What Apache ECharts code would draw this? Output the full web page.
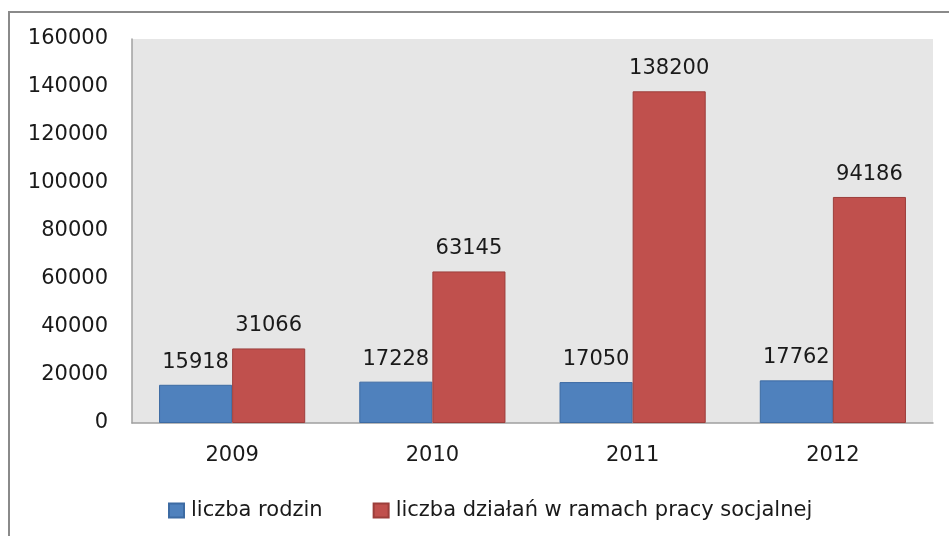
<!DOCTYPE html>
<html><head><meta charset="utf-8">
<script src="https://cdn.jsdelivr.net/npm/echarts@6/dist/echarts.min.js"></script>
<style>html,body{margin:0;padding:0;background:#fff}#c{width:949px;height:536px}</style>
</head><body><div id="c"></div>
<script>
const categories = ['2009', '2010', '2011', '2012'];
const seriesNames = ['liczba rodzin', 'liczba działań w ramach pracy socjalnej'];
const rodziny = [15918, 17228, 17050, 17762];
const dzialania = [31066, 63145, 138200, 94186];
const yMin = 0, yMax = 160000, yStep = 20000;

const FONT = 'DejaVu Sans';
const chart = echarts.init(document.getElementById('c'), null, {renderer: 'canvas'});
const lbl = {show: true, position: 'top', color: '#1a1a1a', fontFamily: FONT, fontSize: 21, distance: 12};
chart.setOption({
  animation: false,
  backgroundColor: '#fff',
  textStyle: {fontFamily: FONT},
  graphic: [{type: 'rect', shape: {x: 9, y: 12, width: 1000, height: 600}, style: {fill: 'none', stroke: '#8a8a8a', lineWidth: 2}, z: -1}],
  grid: {left: 132, right: 16, top: 39, bottom: 113, show: true, backgroundColor: '#e6e6e6', borderWidth: 0},
  legend: {
    data: seriesNames, left: 163, top: 495, itemWidth: 15, itemHeight: 14, itemGap: 50,
    textStyle: {fontFamily: FONT, fontSize: 21, color: '#1a1a1a', padding: [0, 0, 0, 2]}, icon: 'rect'
  },
  xAxis: {
    type: 'category', data: categories,
    axisLine: {lineStyle: {color: '#a0a0a0', width: 1.5}}, axisTick: {show: false},
    axisLabel: {fontFamily: FONT, fontSize: 21, color: '#1a1a1a', margin: 22}
  },
  yAxis: {
    type: 'value', min: yMin, max: yMax, interval: yStep,
    axisLine: {show: true, lineStyle: {color: '#a0a0a0', width: 1.5}}, axisTick: {show: false},
    splitLine: {show: false},
    axisLabel: {fontFamily: FONT, fontSize: 21, color: '#1a1a1a', margin: 24, formatter: v => String(v)}
  },
  series: [
    {name: seriesNames[0], type: 'bar', data: rodziny, barGap: '0%', barCategoryGap: '27%',
     itemStyle: {color: '#4f81bd', borderColor: '#3d6ba3', borderWidth: 1}, label: lbl},
    {name: seriesNames[1], type: 'bar', data: dzialania,
     itemStyle: {color: '#c0504d', borderColor: '#9c3e3b', borderWidth: 1}, label: lbl}
  ]
});
</script></body></html>
